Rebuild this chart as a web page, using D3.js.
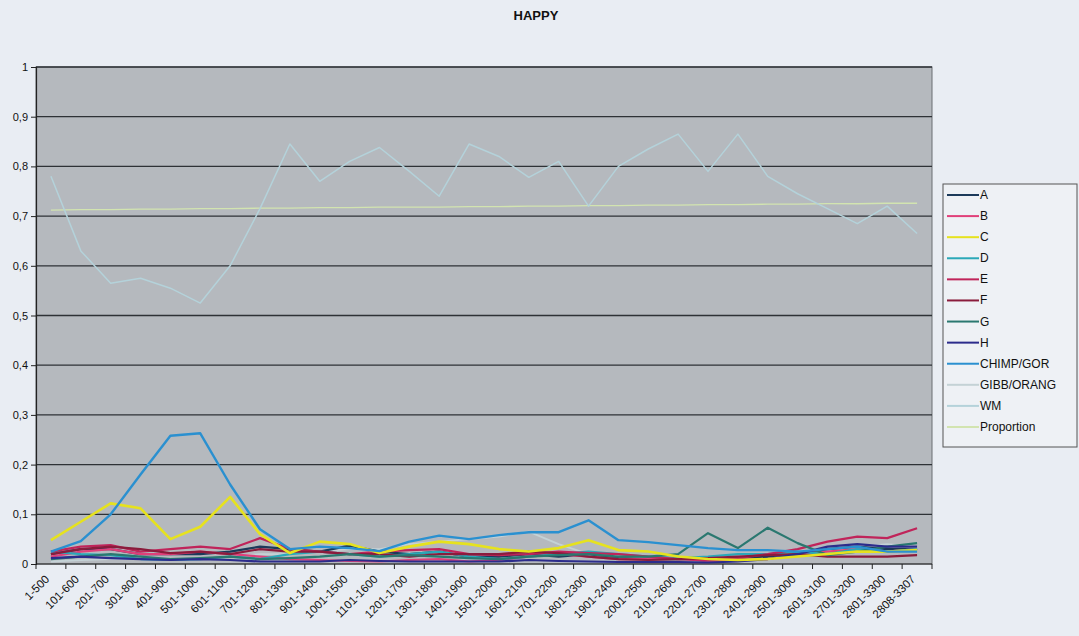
<!DOCTYPE html>
<html>
<head>
<meta charset="utf-8">
<script src="https://cdn.jsdelivr.net/npm/d3@7"></script>
<style>
  html, body { margin: 0; padding: 0; background: #e9edf3; }
  svg { display: block; font-family: "Liberation Sans", Arial, sans-serif; }
</style>
</head>
<body>
<svg id="chart" width="1079" height="636"></svg>
<script>
// ---------- data ----------
const categories = ["1-500","101-600","201-700","301-800","401-900","501-1000","601-1100","701-1200","801-1300","901-1400","1001-1500","1101-1600","1201-1700","1301-1800","1401-1900","1501-2000","1601-2100","1701-2200","1801-2300","1901-2400","2001-2500","2101-2600","2201-2700","2301-2800","2401-2900","2501-3000","2601-3100","2701-3200","2801-3300","2808-3307"];
const yTicks = [0,0.1,0.2,0.3,0.4,0.5,0.6,0.7,0.8,0.9,1];
const yTickLabels = ["0","0,1","0,2","0,3","0,4","0,5","0,6","0,7","0,8","0,9","1"];

const seriesNames = ["A","B","C","D","E","F","G","H","CHIMP/GOR","GIBB/ORANG","WM","Proportion"];
const seriesColors = ["#1c3a5a","#e0407a","#e6e21e","#2aa8b8","#c0245a","#8a1c3c","#2a7870","#2c2c8c","#2a90d0","#c4d2d6","#b4d2da","#d2e4b0"];

const A = [0.020,0.030,0.030,0.020,0.020,0.020,0.025,0.035,0.030,0.025,0.037,0.025,0.020,0.025,0.015,0.015,0.020,0.015,0.020,0.012,0.010,0.010,0.010,0.012,0.015,0.020,0.030,0.035,0.030,0.030];
const B = [0.015,0.025,0.030,0.020,0.020,0.025,0.020,0.015,0.010,0.008,0.006,0.005,0.008,0.010,0.005,0.008,0.015,0.020,0.015,0.010,0.010,0.012,0.005,0.008,0.010,0.020,0.025,0.030,0.025,0.030];
const C = [0.048,0.085,0.122,0.112,0.050,0.075,0.135,0.060,0.022,0.045,0.040,0.022,0.035,0.045,0.040,0.030,0.025,0.032,0.048,0.028,0.025,0.015,0.010,0.008,0.010,0.015,0.020,0.025,0.025,0.028];
const D = [0.025,0.020,0.018,0.010,0.008,0.010,0.015,0.010,0.020,0.025,0.020,0.015,0.020,0.025,0.015,0.010,0.015,0.020,0.025,0.020,0.015,0.012,0.015,0.020,0.020,0.025,0.020,0.030,0.025,0.030];
const E = [0.025,0.035,0.038,0.025,0.030,0.035,0.030,0.052,0.030,0.025,0.020,0.025,0.028,0.030,0.020,0.018,0.020,0.025,0.022,0.020,0.015,0.010,0.008,0.012,0.020,0.030,0.045,0.055,0.052,0.072];
const F = [0.020,0.030,0.035,0.030,0.022,0.025,0.020,0.030,0.025,0.025,0.020,0.020,0.015,0.020,0.020,0.020,0.025,0.022,0.015,0.010,0.008,0.010,0.012,0.015,0.018,0.020,0.015,0.015,0.015,0.018];
const G = [0.010,0.015,0.020,0.015,0.010,0.012,0.015,0.010,0.012,0.015,0.020,0.015,0.018,0.015,0.012,0.010,0.015,0.018,0.020,0.015,0.015,0.020,0.062,0.032,0.073,0.042,0.018,0.025,0.035,0.042];
const H = [0.012,0.015,0.012,0.010,0.008,0.010,0.008,0.005,0.005,0.005,0.008,0.006,0.005,0.005,0.005,0.005,0.008,0.006,0.005,0.004,0.004,0.004,0.003,0.005,0.010,0.020,0.035,0.040,0.035,0.035];
const CHIMP_GOR = [0.025,0.046,0.100,0.180,0.258,0.263,0.160,0.070,0.030,0.035,0.032,0.026,0.045,0.057,0.050,0.058,0.064,0.064,0.088,0.048,0.044,0.038,0.032,0.028,0.028,0.025,0.030,0.035,0.025,0.025];
const GIBB_ORANG = [0.005,0.008,0.010,0.010,0.008,0.010,0.015,0.020,0.020,0.025,0.030,0.030,0.040,0.045,0.050,0.055,0.065,0.040,0.020,0.015,0.010,0.010,0.012,0.015,0.020,0.025,0.030,0.035,0.040,0.035];
const WM = [0.780,0.630,0.565,0.575,0.555,0.525,0.600,0.715,0.845,0.770,0.810,0.838,0.790,0.740,0.845,0.820,0.778,0.810,0.720,0.800,0.835,0.865,0.790,0.865,0.780,0.745,0.715,0.685,0.720,0.665];
const Proportion = [0.712,0.713,0.713,0.714,0.714,0.715,0.715,0.716,0.716,0.717,0.717,0.718,0.718,0.718,0.719,0.719,0.720,0.720,0.721,0.721,0.722,0.722,0.723,0.723,0.724,0.724,0.725,0.725,0.726,0.726];

const seriesValues = [A,B,C,D,E,F,G,H,CHIMP_GOR,GIBB_ORANG,WM,Proportion];

// ---------- layout ----------
const svg = d3.select("#chart");
const plot = {left: 36, right: 932, top: 67, bottom: 564};

const x = d3.scaleBand().domain(categories).range([plot.left, plot.right]).padding(0);
const y = d3.scaleLinear().domain([0, 1]).range([plot.bottom, plot.top]);
const cx = c => x(c) + x.bandwidth() / 2;

// title
svg.append("text").attr("x", 536).attr("y", 20).attr("text-anchor", "middle")
  .attr("font-size", 13).attr("font-weight", "bold").attr("fill", "#111").text("HAPPY");

// plot background
svg.append("rect").attr("x", plot.left).attr("y", plot.top)
  .attr("width", plot.right - plot.left).attr("height", plot.bottom - plot.top)
  .attr("fill", "#b5b9be").attr("stroke", "#6a6e72").attr("stroke-width", 1);

// gridlines
svg.append("g").selectAll("line").data(yTicks.slice(1)).join("line")
  .attr("x1", plot.left).attr("x2", plot.right)
  .attr("y1", d => y(d)).attr("y2", d => y(d))
  .attr("stroke", "#2e3236").attr("stroke-width", 1.3);

// y axis
const yAxis = d3.axisLeft(y).tickValues(yTicks).tickSize(5).tickPadding(3)
  .tickFormat((d, i) => yTickLabels[i]);
const gy = svg.append("g").attr("transform", `translate(${plot.left},0)`).call(yAxis);
gy.select(".domain").attr("stroke", "#222").attr("stroke-width", 1.2);
gy.selectAll(".tick line").attr("stroke", "#222");
gy.selectAll("text").attr("font-size", 11).attr("fill", "#111")
  .attr("font-family", "'Liberation Sans', Arial, sans-serif");

// x axis (ticks at category boundaries)
const gx = svg.append("g");
gx.append("line").attr("x1", plot.left).attr("x2", plot.right)
  .attr("y1", plot.bottom).attr("y2", plot.bottom).attr("stroke", "#222").attr("stroke-width", 1.2);
const boundaries = categories.map(c => x(c)).concat([plot.right]);
gx.selectAll("line.tk").data(boundaries).join("line").attr("class", "tk")
  .attr("x1", d => d).attr("x2", d => d)
  .attr("y1", plot.bottom).attr("y2", plot.bottom + 5).attr("stroke", "#222");
gx.selectAll("text").data(categories).join("text")
  .attr("transform", d => `translate(${cx(d) - 1},${plot.bottom + 16}) rotate(-45)`)
  .attr("text-anchor", "end").attr("font-size", 11.5).attr("fill", "#111")
  .text(d => d);

// lines
const line = d3.line().x((d, i) => cx(categories[i])).y(d => y(d));
const widths = [2.2,2.2,2.6,2.2,2.2,2.2,2.2,2.2,2.4,1.8,1.5,1.4];
const drawOrder = [11,10,9,0,1,3,4,5,6,7,2,8];
const gl = svg.append("g");
drawOrder.forEach(k => {
  gl.append("path").datum(seriesValues[k])
    .attr("fill", "none").attr("stroke", seriesColors[k])
    .attr("stroke-width", widths[k]).attr("stroke-linejoin", "round")
    .attr("d", line);
});

// legend
const lg = svg.append("g");
lg.append("rect").attr("x", 943).attr("y", 184).attr("width", 134).attr("height", 263)
  .attr("fill", "#eef1f5").attr("stroke", "#555").attr("stroke-width", 1);
const ly = d3.scalePoint().domain(seriesNames).range([195, 427]);
seriesNames.forEach((n, i) => {
  lg.append("line").attr("x1", 947).attr("x2", 979)
    .attr("y1", ly(n)).attr("y2", ly(n))
    .attr("stroke", seriesColors[i]).attr("stroke-width", 2);
  lg.append("text").attr("x", 980).attr("y", ly(n) + 4)
    .attr("font-size", 12).attr("fill", "#111").text(n);
});
</script>
</body>
</html>
